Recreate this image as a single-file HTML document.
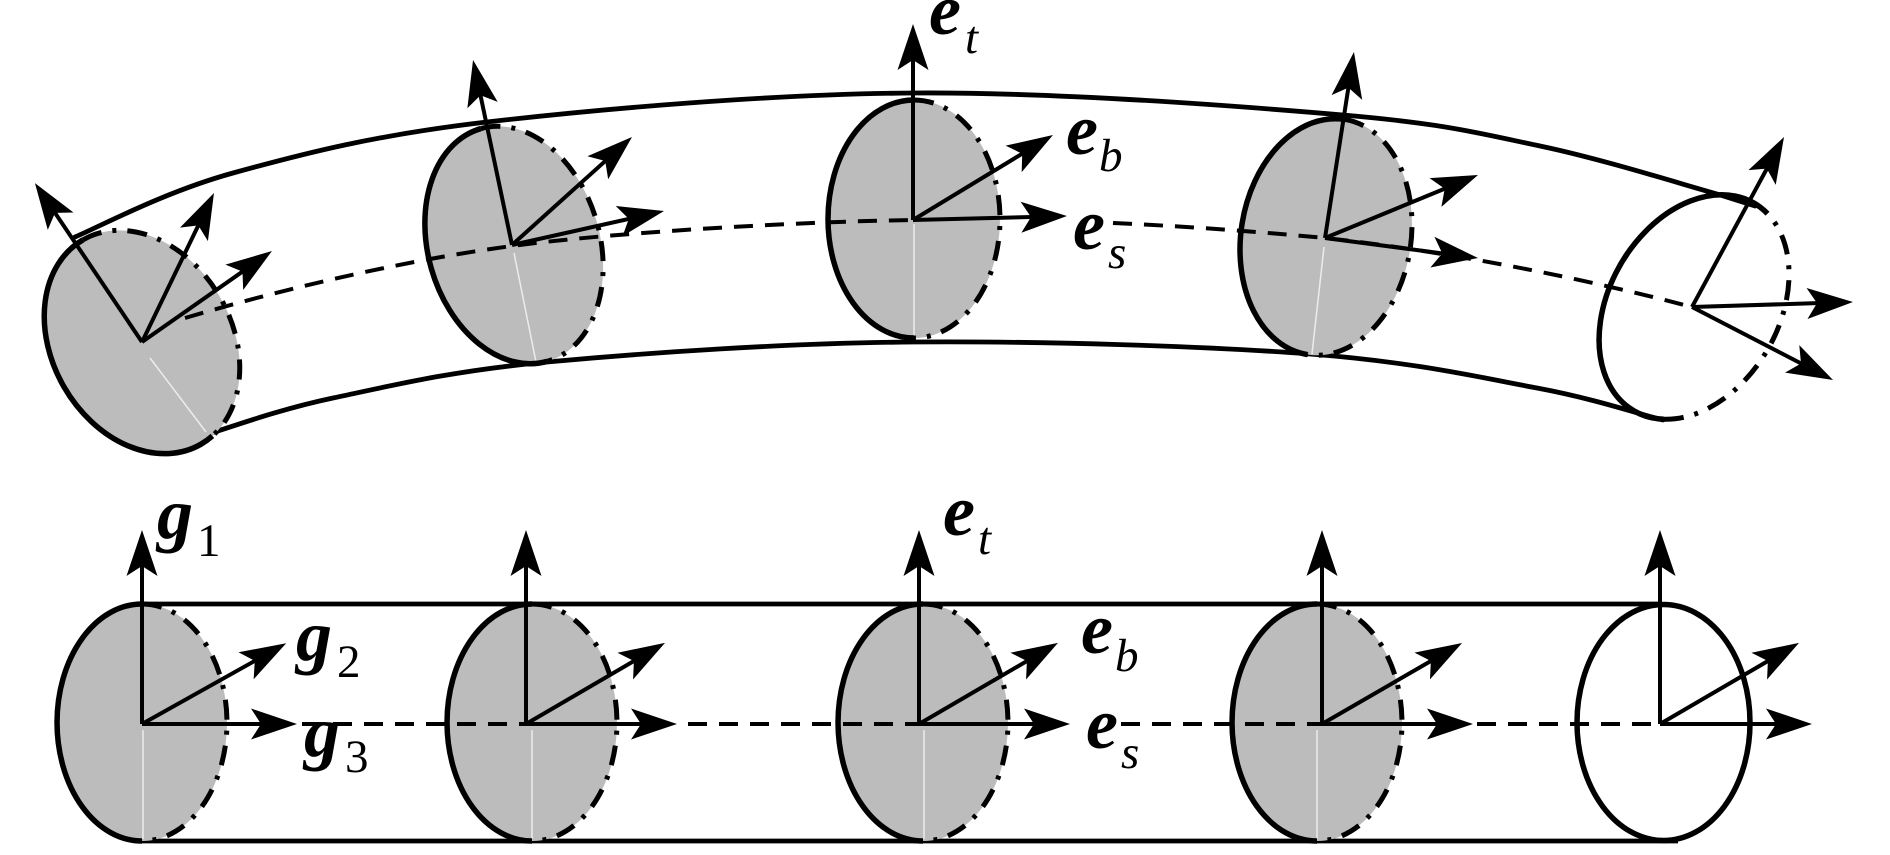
<!DOCTYPE html>
<html>
<head>
<meta charset="utf-8">
<style>
  html,body{margin:0;padding:0;background:#fff;}
  svg{display:block;}
  .lbl{font-family:"Liberation Serif","Times New Roman",serif;font-weight:bold;font-style:italic;font-size:72px;fill:#000;}
  .sub{font-family:"Liberation Serif","Times New Roman",serif;font-style:italic;font-size:47px;fill:#000;}
  .num{font-family:"Liberation Serif","Times New Roman",serif;font-size:47px;fill:#000;}
</style>
</head>
<body>
<svg width="1890" height="855" viewBox="0 0 1890 855" xmlns="http://www.w3.org/2000/svg">
  <defs>
    <marker id="a" viewBox="-30 -20 60 40" refX="0" refY="0" markerWidth="60" markerHeight="40" markerUnits="userSpaceOnUse" orient="auto">
      <path d="M25,0 L-21,-15.5 L-11,0 L-21,15.5Z" fill="#000"/>
    </marker>
  </defs>

  <!-- ================= TOP FIGURE ================= -->
  <g fill="none" stroke="#000" stroke-width="4.8" stroke-linecap="round">
    <path d="M75,237 C101,226 164,192 233,173 C302,154 374,135 487,122 C600,109 770,94 913,93 C1056,92 1238,106 1343,115 C1447,124 1478,133 1540,146 C1602,159 1681,184 1717,194 L1755,206"/>
    <path d="M205,435 C226,429 276,410 333,398 C390,386 450,371 547,362 C644,353 786,343 913,342 C1040,341 1206,346 1310,354 C1414,362 1478,377 1537,388 C1596,399 1642,415 1663,420"/>
  </g>

  <!-- disc 1 -->
  <g transform="translate(142,342) rotate(-30)">
    <ellipse rx="90" ry="118" fill="#bcbcbc"/>
  </g>
  <line x1="150" y1="358" x2="206" y2="432" stroke="#ececec" stroke-width="1.5"/>
  <g transform="translate(142,342) rotate(-30)" fill="none" stroke="#000">
    <path d="M0,-118 A90,118 0 0 0 0,118 A90,118 0 0 0 14,116.6" stroke-width="5.5"/>
    <path d="M0,-118 A90,118 0 0 1 0,118" stroke-width="5" stroke-dasharray="20 11 4 11"/>
  </g>

  <!-- disc 2 -->
  <g transform="translate(514,245) rotate(-16)">
    <ellipse rx="86" ry="121" fill="#bcbcbc"/>
  </g>
  <line x1="514" y1="253" x2="536" y2="362" stroke="#ececec" stroke-width="1.5"/>
  <g transform="translate(514,245) rotate(-16)" fill="none" stroke="#000">
    <path d="M0,-121 A86,121 0 0 0 0,121" stroke-width="5.5"/>
    <path d="M0,-121 A86,121 0 0 1 0,121" stroke-width="5" stroke-dasharray="20 11 4 11"/>
  </g>

  <!-- disc 3 -->
  <ellipse cx="914" cy="219" rx="86" ry="119" fill="#bcbcbc"/>
  <line x1="914" y1="224" x2="914" y2="336" stroke="#ececec" stroke-width="1.5"/>
  <g transform="translate(914,219)" fill="none" stroke="#000">
    <path d="M0,-119 A86,119 0 0 0 0,119" stroke-width="5.5"/>
    <path d="M0,-119 A86,119 0 0 1 0,119" stroke-width="5" stroke-dasharray="20 11 4 11"/>
  </g>

  <!-- disc 4 -->
  <g transform="translate(1326,237) rotate(9)">
    <ellipse rx="85" ry="119" fill="#bcbcbc"/>
  </g>
  <line x1="1324" y1="247" x2="1312" y2="354" stroke="#ececec" stroke-width="1.5"/>
  <g transform="translate(1326,237) rotate(9)" fill="none" stroke="#000">
    <path d="M0,-119 A85,119 0 0 0 0,119" stroke-width="5.5"/>
    <path d="M0,-119 A85,119 0 0 1 0,119" stroke-width="5" stroke-dasharray="20 11 4 11"/>
  </g>

  <!-- disc 5 (open end) -->
  <g transform="translate(1694,307) rotate(30)" fill="none" stroke="#000">
    <path d="M17,-117.6 A85,120 0 1 0 30,112.3" stroke-width="5.5"/>
    <path d="M30,112.3 A85,120 0 0 0 17,-117.6" stroke-width="5" stroke-dasharray="20 11 4 11"/>
  </g>

  <!-- spine (dashed) -->
  <g fill="none" stroke="#000" stroke-width="4" stroke-dasharray="19 12">
    <path d="M185,318 C300,284 420,258 512,246 C600,234 780,222 913,220"/>
    <path d="M1113,223 C1200,227 1260,232 1325,238 C1420,248 1560,272 1692,307"/>
  </g>

  <!-- vectors top -->
  <g stroke="#000" stroke-width="4" marker-end="url(#a)">
    <line x1="142" y1="342" x2="48.9" y2="203.8"/>
    <line x1="142" y1="342" x2="203.1" y2="215.5"/>
    <line x1="142" y1="342" x2="251.5" y2="265.3"/>

    <line x1="512" y1="245" x2="478.2" y2="84.5"/>
    <line x1="512" y1="245" x2="613.4" y2="153.7"/>
    <line x1="512" y1="245" x2="639.6" y2="216.5"/>

    <line x1="913" y1="220" x2="913" y2="49"/>
    <line x1="913" y1="220" x2="1031.6" y2="148"/>
    <line x1="913" y1="220" x2="1042" y2="216.7"/>

    <line x1="1325" y1="238" x2="1350.1" y2="76.7"/>
    <line x1="1325" y1="238" x2="1454.9" y2="184.5"/>
    <line x1="1325" y1="238" x2="1453.2" y2="254.8"/>

    <line x1="1692" y1="307" x2="1772.1" y2="159"/>
    <line x1="1692" y1="307" x2="1828" y2="302.8"/>
    <line x1="1692" y1="307" x2="1810.8" y2="368.5"/>
  </g>

  <!-- labels top -->
  <text class="lbl" font-family="Liberation Serif" x="929" y="34">e</text><text class="sub" font-family="Liberation Serif" x="965" y="53">t</text>
  <text class="lbl" font-family="Liberation Serif" x="1066" y="154">e</text><text class="sub" font-family="Liberation Serif" x="1099" y="171">b</text>
  <text class="lbl" font-family="Liberation Serif" x="1073" y="249">e</text><text class="sub" font-family="Liberation Serif" x="1108" y="268">s</text>

  <!-- ================= BOTTOM FIGURE ================= -->
  <g stroke="#000" stroke-width="4.8">
    <line x1="140" y1="604" x2="1662" y2="604"/>
    <line x1="140" y1="841" x2="1678" y2="841"/>
  </g>

  <g>
    <ellipse cx="142" cy="722.5" rx="85" ry="118.5" fill="#bcbcbc"/>
    <ellipse cx="532" cy="722.5" rx="85" ry="118.5" fill="#bcbcbc"/>
    <ellipse cx="923" cy="722.5" rx="85" ry="118.5" fill="#bcbcbc"/>
    <ellipse cx="1317" cy="722.5" rx="85" ry="118.5" fill="#bcbcbc"/>
  </g>
  <g stroke="#ececec" stroke-width="1.5">
    <line x1="143" y1="730" x2="143" y2="839"/>
    <line x1="532" y1="730" x2="532" y2="839"/>
    <line x1="924" y1="730" x2="924" y2="839"/>
    <line x1="1317" y1="730" x2="1317" y2="839"/>
  </g>
  <g fill="none" stroke="#000">
    <g transform="translate(142,722.5)">
      <path d="M0,-118.5 A85,118.5 0 0 0 0,118.5" stroke-width="5.5"/>
      <path d="M0,-118.5 A85,118.5 0 0 1 0,118.5" stroke-width="5" stroke-dasharray="20 11 4 11"/>
    </g>
    <g transform="translate(532,722.5)">
      <path d="M0,-118.5 A85,118.5 0 0 0 0,118.5" stroke-width="5.5"/>
      <path d="M0,-118.5 A85,118.5 0 0 1 0,118.5" stroke-width="5" stroke-dasharray="20 11 4 11"/>
    </g>
    <g transform="translate(923,722.5)">
      <path d="M0,-118.5 A85,118.5 0 0 0 0,118.5" stroke-width="5.5"/>
      <path d="M0,-118.5 A85,118.5 0 0 1 0,118.5" stroke-width="5" stroke-dasharray="20 11 4 11"/>
    </g>
    <g transform="translate(1317,722.5)">
      <path d="M0,-118.5 A85,118.5 0 0 0 0,118.5" stroke-width="5.5"/>
      <path d="M0,-118.5 A85,118.5 0 0 1 0,118.5" stroke-width="5" stroke-dasharray="20 11 4 11"/>
    </g>
    <ellipse cx="1663.5" cy="722.5" rx="86.5" ry="118" stroke-width="5.5"/>
  </g>

  <!-- bottom spine -->
  <g stroke="#000" stroke-width="4" stroke-dasharray="19 12">
    <line x1="302" y1="724" x2="526" y2="724"/>
    <line x1="688" y1="724" x2="919" y2="724"/>
    <line x1="1121" y1="724" x2="1322" y2="724"/>
    <line x1="1477" y1="724" x2="1660" y2="724"/>
  </g>

  <!-- bottom vectors -->
  <g stroke="#000" stroke-width="4" marker-end="url(#a)">
    <line x1="142" y1="724" x2="142" y2="555"/>
    <line x1="142" y1="724" x2="264.4" y2="655.5"/>
    <line x1="142" y1="724" x2="272" y2="724"/>

    <line x1="526" y1="724" x2="526" y2="555"/>
    <line x1="526" y1="724" x2="643.4" y2="655.5"/>
    <line x1="526" y1="724" x2="652" y2="724"/>

    <line x1="919" y1="724" x2="919" y2="555"/>
    <line x1="919" y1="724" x2="1036.4" y2="655.5"/>
    <line x1="919" y1="724" x2="1045" y2="724"/>

    <line x1="1322" y1="724" x2="1322" y2="555"/>
    <line x1="1322" y1="724" x2="1440.4" y2="655.5"/>
    <line x1="1322" y1="724" x2="1448" y2="724"/>

    <line x1="1660" y1="724" x2="1660" y2="555"/>
    <line x1="1660" y1="724" x2="1777.4" y2="655.5"/>
    <line x1="1660" y1="724" x2="1787" y2="724"/>
  </g>

  <!-- bottom labels -->
  <text class="lbl" font-family="Liberation Serif" x="157" y="538">g</text><text class="num" font-family="Liberation Serif" x="197" y="556">1</text>
  <text class="lbl" font-family="Liberation Serif" x="296" y="660">g</text><text class="num" font-family="Liberation Serif" x="337" y="677">2</text>
  <text class="lbl" font-family="Liberation Serif" x="304" y="756">g</text><text class="num" font-family="Liberation Serif" x="345" y="772">3</text>

  <text class="lbl" font-family="Liberation Serif" x="943" y="535">e</text><text class="sub" font-family="Liberation Serif" x="978" y="554">t</text>
  <text class="lbl" font-family="Liberation Serif" x="1081" y="653">e</text><text class="sub" font-family="Liberation Serif" x="1115" y="671">b</text>
  <text class="lbl" font-family="Liberation Serif" x="1086" y="748">e</text><text class="sub" font-family="Liberation Serif" x="1121" y="768">s</text>
</svg>
</body>
</html>
